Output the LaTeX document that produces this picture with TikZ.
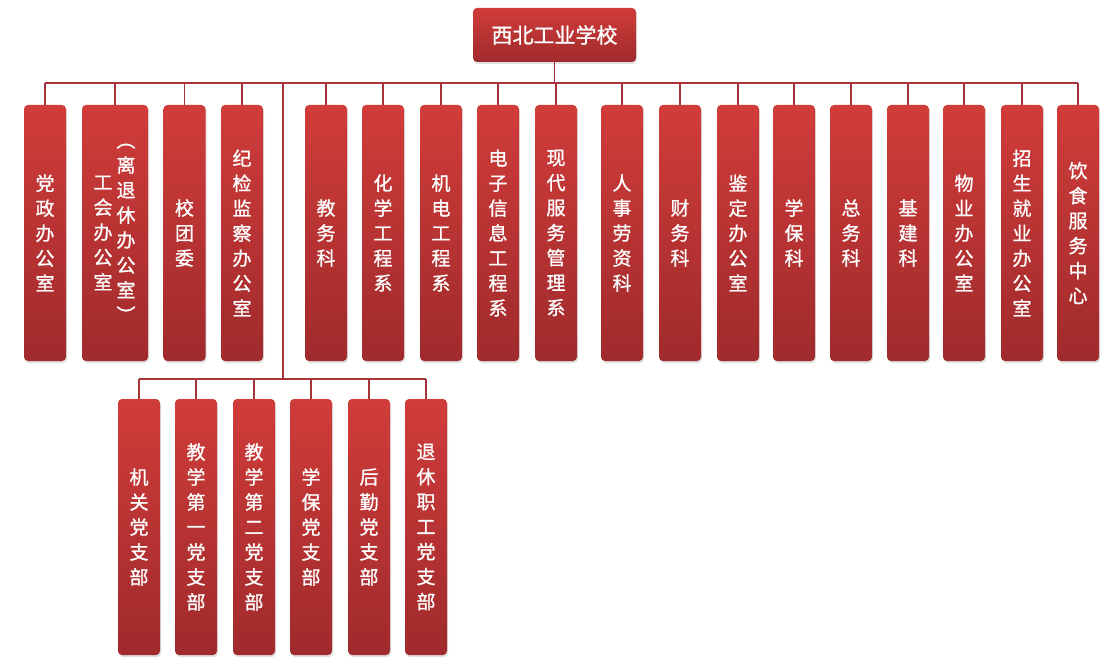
\documentclass[tikz,border=0pt]{standalone}
\usepackage{fontspec}
\setmainfont{Noto Sans CJK SC}
\newfontfamily\unitfont{Noto Sans CJK SC}[FakeBold=1]
\usetikzlibrary{shadows}
\definecolor{boxtop}{RGB}{208,60,58}
\definecolor{boxbot}{RGB}{160,42,44}
\definecolor{linkred}{RGB}{165,52,58}
\tikzset{
  unit/.style={shape=rectangle,rounded corners=4pt,top color=boxtop,bottom color=boxbot,
    draw=none,text=white,inner sep=0pt,align=center,minimum width=42pt,minimum height=256pt,
    font=\unitfont\fontsize{19}{25}\selectfont,
    drop shadow={opacity=0.25,shadow xshift=1pt,shadow yshift=-2pt}},
  link/.style={draw=linkred,line width=1.3pt},
  trunk/.style={draw=linkred,line width=1.9pt}
}
\begin{document}
\begin{tikzpicture}[x=1pt,y=-1pt]
    \useasboundingbox (0,0) rectangle (1115,666);
    \node[unit,minimum width=163pt,minimum height=54pt,font=\unitfont\fontsize{21}{25}\selectfont] (School) at (554.5,35) {西北工业学校};
    % first level
    \node[unit] (PartyOffice) at (45,233) {党\\政\\办\\公\\室};
    \node[unit,minimum width=66pt] (Union) at (115,233) {};
    \node[text=white,align=center,inner sep=0pt,font=\unitfont\fontsize{19}{25}\selectfont] (UnionL) at (103,233) {工\\会\\办\\公\\室};
    \node[text=white,align=center,inner sep=0pt,font=\unitfont\fontsize{19}{25}\selectfont] (UnionR) at (126,233) {︵\\离\\退\\休\\办\\公\\室\\︶};
    \node[unit] (League) at (184.5,233) {校\\团\\委};
    \node[unit] (Discipline) at (242,233) {纪\\检\\监\\察\\办\\公\\室};
    \node[unit] (Teaching) at (326,233) {教\\务\\科};
    \node[unit] (Chemical) at (383,233) {化\\学\\工\\程\\系};
    \node[unit] (Mechanic) at (441,233) {机\\电\\工\\程\\系};
    \node[unit] (Electronic) at (498,233) {电\\子\\信\\息\\工\\程\\系};
    \node[unit] (Service) at (556,233) {现\\代\\服\\务\\管\\理\\系};
    \node[unit] (Personnel) at (622,233) {人\\事\\劳\\资\\科};
    \node[unit] (Finance) at (680,233) {财\\务\\科};
    \node[unit] (Appraisal) at (738,233) {鉴\\定\\办\\公\\室};
    \node[unit] (Security) at (794,233) {学\\保\\科};
    \node[unit] (General) at (851,233) {总\\务\\科};
    \node[unit] (Building) at (908,233) {基\\建\\科};
    \node[unit] (Property) at (964,233) {物\\业\\办\\公\\室};
    \node[unit] (Admission) at (1022,233) {招\\生\\就\\业\\办\\公\\室};
    \node[unit] (Catering) at (1078,233) {饮\\食\\服\\务\\中\\心};
    % party branches
    \node[unit] (BranchOrgan) at (139,527) {机\\关\\党\\支\\部};
    \node[unit] (BranchOne) at (196,527) {教\\学\\第\\一\\党\\支\\部};
    \node[unit] (BranchTwo) at (254,527) {教\\学\\第\\二\\党\\支\\部};
    \node[unit] (BranchSecurity) at (311,527) {学\\保\\党\\支\\部};
    \node[unit] (BranchLogistics) at (369,527) {后\\勤\\党\\支\\部};
    \node[unit] (BranchRetired) at (426,527) {退\\休\\职\\工\\党\\支\\部};
    \coordinate (Bus) at (283,83);
    \coordinate (BranchBus) at (283,379);
    \path[trunk] (School.south) -- (School.south |- Bus);
    \path[trunk] (PartyOffice.north |- Bus) -- (Catering.north |- Bus);
    \path[trunk] (Bus) -- (BranchBus);
    \path[link] (BranchOrgan.north |- BranchBus) -- (BranchRetired.north |- BranchBus);
    \path[link] (PartyOffice.north |- Bus) -- (PartyOffice.north);
    \path[link] (Union.north |- Bus) -- (Union.north);
    \path[link] (League.north |- Bus) -- (League.north);
    \path[link] (Discipline.north |- Bus) -- (Discipline.north);
    \path[link] (Teaching.north |- Bus) -- (Teaching.north);
    \path[link] (Chemical.north |- Bus) -- (Chemical.north);
    \path[link] (Mechanic.north |- Bus) -- (Mechanic.north);
    \path[link] (Electronic.north |- Bus) -- (Electronic.north);
    \path[link] (Service.north |- Bus) -- (Service.north);
    \path[link] (Personnel.north |- Bus) -- (Personnel.north);
    \path[link] (Finance.north |- Bus) -- (Finance.north);
    \path[link] (Appraisal.north |- Bus) -- (Appraisal.north);
    \path[link] (Security.north |- Bus) -- (Security.north);
    \path[link] (General.north |- Bus) -- (General.north);
    \path[link] (Building.north |- Bus) -- (Building.north);
    \path[link] (Property.north |- Bus) -- (Property.north);
    \path[link] (Admission.north |- Bus) -- (Admission.north);
    \path[link] (Catering.north |- Bus) -- (Catering.north);
    \path[link] (BranchOrgan.north |- BranchBus) -- (BranchOrgan.north);
    \path[link] (BranchOne.north |- BranchBus) -- (BranchOne.north);
    \path[link] (BranchTwo.north |- BranchBus) -- (BranchTwo.north);
    \path[link] (BranchSecurity.north |- BranchBus) -- (BranchSecurity.north);
    \path[link] (BranchLogistics.north |- BranchBus) -- (BranchLogistics.north);
    \path[link] (BranchRetired.north |- BranchBus) -- (BranchRetired.north);
\end{tikzpicture}
\end{document}
